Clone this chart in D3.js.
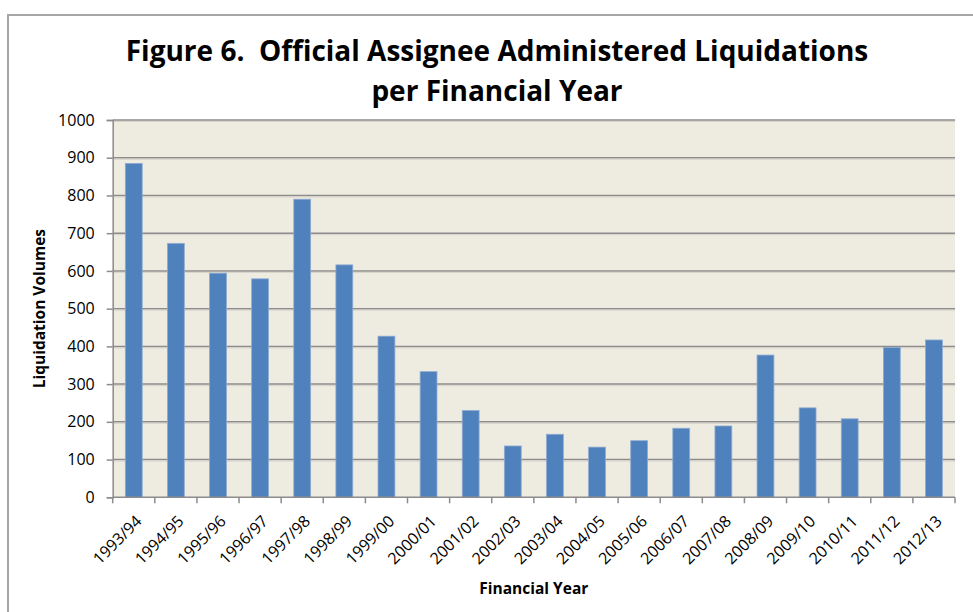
<!DOCTYPE html>
<html>
<head>
<meta charset="utf-8">
<script src="https://cdn.jsdelivr.net/npm/d3@7/dist/d3.min.js"></script>
<style>
  html, body { margin: 0; padding: 0; background: #ffffff; }
  svg { display: block; font-family: "Open Sans", Lato, sans-serif; }
</style>
</head>
<body>
<svg id="chart" width="973" height="612"></svg>
<script>
// Financial years and liquidation counts administered by the Official Assignee
const years = ["1993/94","1994/95","1995/96","1996/97","1997/98","1998/99","1999/00",
  "2000/01","2001/02","2002/03","2003/04","2004/05","2005/06","2006/07","2007/08",
  "2008/09","2009/10","2010/11","2011/12","2012/13"];
const liquidations = [885, 673, 594, 579, 790, 616, 427, 333, 230, 136, 167, 133,
  150, 183, 189, 377, 237, 208, 397, 417];
const yTicks = [0, 100, 200, 300, 400, 500, 600, 700, 800, 900, 1000];

const titleLines = ["Figure 6.  Official Assignee Administered Liquidations", "per Financial Year"];
const yTitle = "Liquidation Volumes";
const xTitle = "Financial Year";

const svg = d3.select("#chart");
const W = 973, H = 612;
const plot = { left: 112.7, right: 955, top: 120, bottom: 497.3 };

// chart-area frame (top and left edges visible)
svg.append("path")
  .attr("d", `M8,${H} L8,15 L${W},15`)
  .attr("fill", "none").attr("stroke", "#a6a6a6").attr("stroke-width", 2);

// title
const title = svg.append("text")
  .attr("text-anchor", "middle")
  .attr("font-weight", "bold")
  .attr("font-size", 28)
  .attr("fill", "#000")
  .style("white-space", "pre");
titleLines.forEach((t, i) => {
  title.append("tspan").attr("x", 497).attr("y", 61 + i * 40).text(t);
});

const x = d3.scaleBand().domain(years).range([plot.left, plot.right]).paddingInner(0.6).paddingOuter(0.3);
const y = d3.scaleLinear().domain([0, 1000]).range([plot.bottom, plot.top]);

// plot background
svg.append("rect")
  .attr("x", plot.left).attr("y", plot.top)
  .attr("width", plot.right - plot.left).attr("height", plot.bottom - plot.top)
  .attr("fill", "#eeebe0");

// gridlines
svg.append("g").selectAll("line").data(yTicks.filter(d => d > 0)).join("line")
  .attr("x1", plot.left).attr("x2", plot.right)
  .attr("y1", d => y(d)).attr("y2", d => y(d))
  .attr("stroke", "#8c8c8c").attr("stroke-width", 1.5);
svg.append("g").selectAll("line").data(yTicks.filter(d => d > 0)).join("line")
  .attr("x1", plot.left).attr("x2", plot.right)
  .attr("y1", d => y(d) + 1.5).attr("y2", d => y(d) + 1.5)
  .attr("stroke", "#d6d3ca").attr("stroke-width", 1);

// bars
svg.append("g").selectAll("rect").data(liquidations).join("rect")
  .attr("x", (d, i) => x(years[i]))
  .attr("y", d => y(d))
  .attr("width", x.bandwidth())
  .attr("height", d => plot.bottom - y(d))
  .attr("fill", "#4f81bd")
  .attr("stroke", "#8eaad3").attr("stroke-width", 0.8);

// y axis
const yAxis = svg.append("g")
  .attr("transform", `translate(${plot.left},0)`)
  .call(d3.axisLeft(y).tickValues(yTicks).tickSize(6).tickPadding(12).tickFormat(d3.format("d")));
yAxis.select(".domain").attr("stroke", "#8c8c8c").attr("stroke-width", 1.5);
yAxis.selectAll(".tick line").attr("stroke", "#8c8c8c").attr("stroke-width", 1.5);
yAxis.selectAll(".tick text")
  .attr("font-family", "'Open Sans', sans-serif").attr("font-size", 16).attr("fill", "#000");

// x axis: baseline, boundary ticks and rotated labels
const xg = svg.append("g");
xg.append("line")
  .attr("x1", plot.left).attr("x2", plot.right)
  .attr("y1", plot.bottom).attr("y2", plot.bottom)
  .attr("stroke", "#8c8c8c").attr("stroke-width", 1.5);
const step = x.step();
const boundaries = d3.range(years.length + 1).map(i => x(years[0]) - x.paddingOuter() * step + i * step);
xg.selectAll("line.tk").data(boundaries).join("line").attr("class", "tk")
  .attr("x1", d => d).attr("x2", d => d)
  .attr("y1", plot.bottom).attr("y2", plot.bottom + 6)
  .attr("stroke", "#8c8c8c").attr("stroke-width", 1.5);
xg.selectAll("text").data(years).join("text")
  .attr("transform", d => `translate(${x(d) + x.bandwidth() / 2 + 5},${plot.bottom + 21}) rotate(-45)`)
  .attr("text-anchor", "end")
  .attr("dy", "0.35em")
  .attr("font-size", 16)
  .attr("fill", "#000")
  .text(d => d);

// axis titles
svg.append("text")
  .attr("transform", `translate(45,${(plot.top + plot.bottom) / 2}) rotate(-90)`)
  .attr("text-anchor", "middle")
  .attr("font-weight", "bold").attr("font-size", 15.5).attr("fill", "#000")
  .text(yTitle);
svg.append("text")
  .attr("x", (plot.left + plot.right) / 2).attr("y", 594)
  .attr("text-anchor", "middle")
  .attr("font-weight", "bold").attr("font-size", 15.5).attr("fill", "#000")
  .text(xTitle);
</script>
</body>
</html>
